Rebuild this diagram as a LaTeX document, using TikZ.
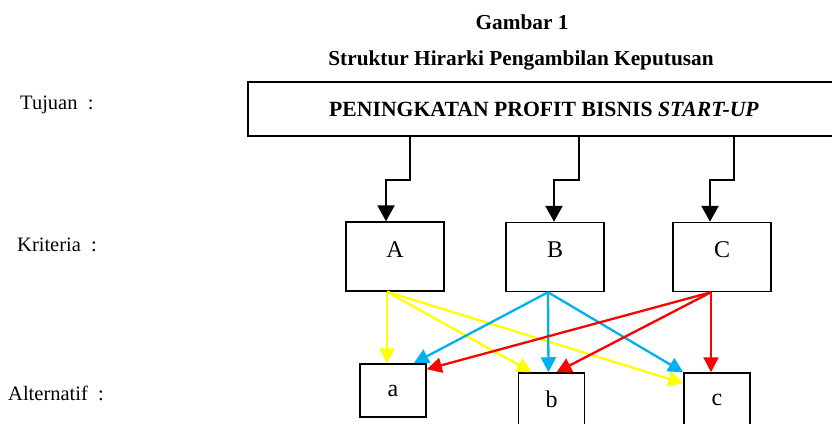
\documentclass[tikz,border=0pt]{standalone}
\usepackage{fontspec}
\setmainfont{Liberation Serif}
\usepackage{tikz}
\usetikzlibrary{arrows.meta}
\definecolor{biru}{RGB}{0,176,240}
\definecolor{kuning}{RGB}{255,255,0}
\definecolor{merah}{RGB}{255,0,0}
\tikzstyle{goalbox} = [rectangle, draw=black, line width=1.5pt, minimum width=592pt, minimum height=54pt, inner sep=0pt, font=\fontsize{21.7}{25}\selectfont\bfseries]
\tikzstyle{kritbox} = [rectangle, draw=black, line width=1.5pt, minimum width=98pt, minimum height=69pt, inner sep=0pt, text depth=14pt, font=\fontsize{24}{28}\selectfont]
\tikzstyle{altbox} = [rectangle, draw=black, line width=1.5pt, minimum width=66pt, minimum height=53pt, inner sep=0pt, font=\fontsize{24}{28}\selectfont]
\tikzstyle{label} = [anchor=west, inner sep=0pt, font=\fontsize{20.5}{24}\selectfont]
\tikzstyle{judul} = [inner sep=0pt, font=\fontsize{21.3}{25}\selectfont\bfseries]
\tikzstyle{down} = [line width=2.5pt, -{Triangle[length=16pt,width=17pt]}]
\tikzstyle{warna} = [line width=2.3pt, -{Triangle[length=15pt,width=15pt]}]

\begin{document}
\begin{tikzpicture}[x=1pt, y=-1pt]
\useasboundingbox (0,0) rectangle (832,423);
\node (fig) [judul] at (522,22) {Gambar 1};
\node (title) [judul] at (521,60) {Struktur Hirarki Pengambilan Keputusan};

\node (ltuj) [label] at (20,105) {Tujuan~~:};
\node (lkri) [label] at (17,245) {Kriteria~~:};
\node (lalt) [label] at (8,393) {Alternatif~~:};

\node (goal) [goalbox] at (544,109) {PENINGKATAN PROFIT BISNIS \textit{START-UP}};
\node (A) [kritbox] at (395,256.5) {A};
\node (B) [kritbox] at (555,257) {B};
\node (C) [kritbox] at (722,257) {C};
\node (a) [altbox] at (393,390.5) {a};
\node (b) [altbox] at (551.5,399.5) {b};
\node (c) [altbox] at (717,399.5) {c};

\draw [down] ([xshift=15pt]goal.south -| A.north) -- ++(0,43) -| ([xshift=-9pt]A.north);
\draw [down] ([xshift=24pt]goal.south -| B.north) -- ++(0,43) -| ([xshift=-1pt]B.north);
\draw [down] ([xshift=12pt]goal.south -| C.north) -- ++(0,43) -| ([xshift=-12pt]C.north);

\draw [warna, kuning] ([xshift=-8pt]A.south) -- ([xshift=-6pt]a.north);
\draw [warna, kuning] ([xshift=-8pt]A.south) -- ([xshift=14pt]b.north west);
\draw [warna, kuning] ([xshift=-8pt]A.south) -- ([yshift=-11pt]c.north west);

\draw [warna, biru] ([xshift=-7pt]B.south) -- ([xshift=-13pt]a.north east);
\draw [warna, biru] ([xshift=-7pt]B.south) -- ([xshift=-3pt]b.north);
\draw [warna, biru] ([xshift=-7pt]B.south) -- (c.north west);

\draw [warna, merah] ([xshift=-11pt]C.south) -- ([yshift=-6pt]a.north east);
\draw [warna, merah] ([xshift=-11pt]C.south) -- ([xshift=5pt]b.north);
\draw [warna, merah] ([xshift=-11pt]C.south) -- ([xshift=-6pt]c.north);

\end{tikzpicture}
\end{document}
